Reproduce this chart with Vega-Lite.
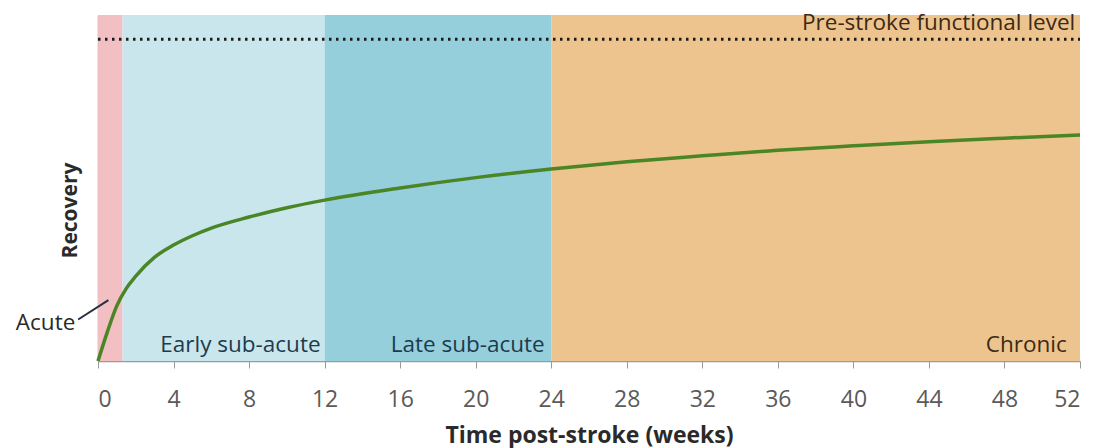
{
  "$schema": "https://vega.github.io/schema/vega-lite/v6.json",
  "width": 982,
  "height": 346,
  "autosize": {"type": "none"},
  "padding": {"left": 98, "top": 15, "right": 17, "bottom": 87},
  "background": "white",
  "config": {
    "view": {"stroke": null},
    "font": "Open Sans",
    "axis": {"grid": false}
  },
  "datasets": {
    "phases": [
      {"phase": "Acute", "start": 0, "end": 1.3},
      {"phase": "Early sub-acute", "start": 1.3, "end": 12},
      {"phase": "Late sub-acute", "start": 12, "end": 24},
      {"phase": "Chronic", "start": 24, "end": 52}
    ],
    "curve": [
      {"week": 0, "recovery": 0},
      {"week": 0.5, "recovery": 8.5},
      {"week": 1, "recovery": 16},
      {"week": 1.5, "recovery": 21},
      {"week": 2, "recovery": 24.5},
      {"week": 3, "recovery": 30},
      {"week": 4, "recovery": 33.5},
      {"week": 5, "recovery": 36.2},
      {"week": 6, "recovery": 38.4},
      {"week": 8, "recovery": 41.6},
      {"week": 10, "recovery": 44.3},
      {"week": 12, "recovery": 46.5},
      {"week": 16, "recovery": 50},
      {"week": 20, "recovery": 53},
      {"week": 24, "recovery": 55.5},
      {"week": 28, "recovery": 57.6},
      {"week": 32, "recovery": 59.3},
      {"week": 36, "recovery": 60.9},
      {"week": 40, "recovery": 62.2},
      {"week": 44, "recovery": 63.4},
      {"week": 48, "recovery": 64.4},
      {"week": 52, "recovery": 65.3}
    ],
    "labels": [
      {"text": "Early sub-acute", "week": 3.3, "recovery": 2.5, "align": "left", "tone": "blue"},
      {"text": "Late sub-acute", "week": 15.5, "recovery": 2.5, "align": "left", "tone": "blue"},
      {"text": "Chronic", "week": 51.3, "recovery": 2.5, "align": "right", "tone": "brown"},
      {"text": "Pre-stroke functional level", "week": 51.75, "recovery": 95.6, "align": "right", "tone": "brown"},
      {"text": "Acute", "week": -1.2, "recovery": 9, "align": "right", "tone": "dark"}
    ],
    "level": [{"start": 0, "end": 52, "recovery": 93}],
    "leader": [{"x1": -1.05, "y1": 12, "x2": 0.55, "y2": 17.6}]
  },
  "layer": [
    {
      "data": {"name": "phases"},
      "mark": {"type": "rect"},
      "encoding": {
        "x": {"field": "start", "type": "quantitative", "scale": {"domain": [0, 52], "nice": false},
          "axis": {
            "values": [0, 4, 8, 12, 16, 20, 24, 28, 32, 36, 40, 44, 48, 52],
            "title": "Time post-stroke (weeks)",
            "titleFontSize": 23, "titleFontWeight": "bold", "titleColor": "#2a2a2a",
            "titleBaseline": "alphabetic", "titleY": 81,
            "labelFontSize": 23, "labelColor": "#5a5a5a", "labelPadding": 20,
            "tickSize": 7, "tickColor": "#9a9a9a", "domainColor": "#9a9a9a", "domainWidth": 1.5
          }},
        "x2": {"field": "end"},
        "color": {"field": "phase", "type": "nominal", "legend": null,
          "scale": {"domain": ["Acute", "Early sub-acute", "Late sub-acute", "Chronic"],
            "range": ["#f2bfc3", "#cae6ed", "#95cfdc", "#edc48e"]}}
      }
    },
    {
      "data": {"name": "level"},
      "mark": {"type": "rule", "strokeDash": [2.5, 4.5], "strokeWidth": 3, "color": "#1a1a1a"},
      "encoding": {
        "x": {"field": "start", "type": "quantitative"},
        "x2": {"field": "end"},
        "y": {"field": "recovery", "type": "quantitative"}
      }
    },
    {
      "data": {"name": "curve"},
      "mark": {"type": "line", "interpolate": "monotone", "color": "#4a8526", "strokeWidth": 3.5},
      "encoding": {
        "x": {"field": "week", "type": "quantitative"},
        "y": {"field": "recovery", "type": "quantitative", "scale": {"domain": [0, 100], "nice": false},
          "axis": {"title": "Recovery", "titleFontSize": 21, "titleFontWeight": "bold", "titleColor": "#2a2a2a",
            "titlePadding": 18, "titleY": 195, "labels": false, "ticks": false,
            "domainColor": "#9a9a9a", "domainWidth": 1.5}}
      }
    },
    {
      "data": {"name": "leader"},
      "mark": {"type": "rule", "color": "#2a3040", "strokeWidth": 2, "clip": false},
      "encoding": {
        "x": {"field": "x1", "type": "quantitative"},
        "x2": {"field": "x2"},
        "y": {"field": "y1", "type": "quantitative"},
        "y2": {"field": "y2"}
      }
    },
    {
      "data": {"name": "labels"},
      "transform": [{"filter": "datum.align === 'left'"}],
      "mark": {"type": "text", "fontSize": 22.5, "baseline": "alphabetic", "align": "left", "clip": false},
      "encoding": {
        "x": {"field": "week", "type": "quantitative"},
        "y": {"field": "recovery", "type": "quantitative"},
        "text": {"field": "text"},
        "color": {"field": "tone", "type": "nominal", "legend": null,
          "scale": {"domain": ["blue", "brown", "dark"], "range": ["#1d3b4c", "#3b2a16", "#2a2a2a"]}}
      }
    },
    {
      "data": {"name": "labels"},
      "transform": [{"filter": "datum.align === 'right'"}],
      "mark": {"type": "text", "fontSize": 22.5, "baseline": "alphabetic", "align": "right", "clip": false},
      "encoding": {
        "x": {"field": "week", "type": "quantitative"},
        "y": {"field": "recovery", "type": "quantitative"},
        "text": {"field": "text"},
        "color": {"field": "tone", "type": "nominal", "legend": null,
          "scale": {"domain": ["blue", "brown", "dark"], "range": ["#1d3b4c", "#3b2a16", "#2a2a2a"]}}
      }
    }
  ],
  "resolve": {"scale": {"color": "independent"}}
}
